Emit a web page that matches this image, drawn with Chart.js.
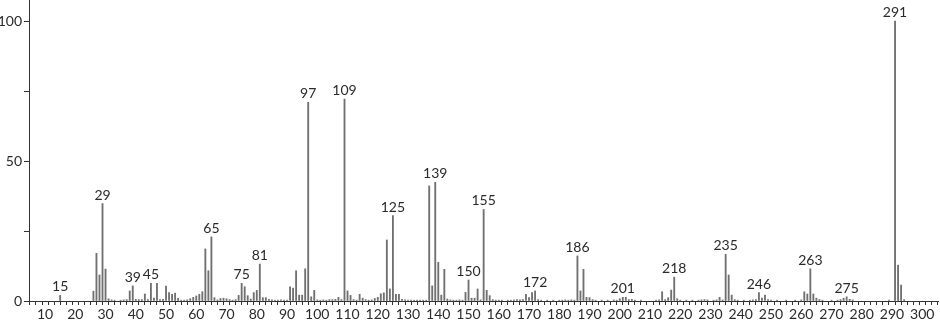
<!DOCTYPE html>
<html>
<head>
<meta charset="utf-8">
<script src="https://cdn.jsdelivr.net/npm/chart.js@4"></script>
<style>
  body { margin: 0; background: #fff; }
  canvas { display: block; }
</style>
</head>
<body>
<canvas id="spectrum" width="940" height="323"></canvas>
<script>
// m/z values and relative intensities
const mz = [15, 26, 27, 28, 29, 30, 31, 32, 33, 35, 36, 37, 38, 39, 40, 41, 42, 43, 44, 45, 46, 47, 48, 49, 50,
  51, 52, 53, 54, 55, 56, 57, 58, 59, 60, 61, 62, 63, 64, 65, 66, 67, 68, 69, 70, 71, 72, 73, 74, 75, 76, 77, 78, 79, 80,
  81, 82, 83, 84, 85, 86, 87, 88, 89, 90, 91, 92, 93, 94, 95, 96, 97, 98, 99, 100, 101, 102, 103, 104, 105, 106, 107, 108,
  109, 110, 111, 112, 113, 114, 115, 116, 117, 118, 119, 120, 121, 122, 123, 124, 125, 126, 127, 128, 129, 130, 131, 132,
  133, 134, 135, 136, 137, 138, 139, 140, 141, 142, 143, 144, 145, 146, 147, 148, 149, 150, 151, 152, 153, 154, 155, 156,
  157, 158, 159, 160, 161, 163, 164, 165, 166, 167, 168, 169, 170, 171, 172, 173, 174, 176, 178, 180, 181, 182, 183, 184,
  185, 186, 187, 188, 189, 190, 191, 192, 194, 196, 198, 199, 200, 201, 202, 203, 204, 205, 207, 212, 213, 214, 215, 216,
  217, 218, 219, 220, 222, 224, 226, 227, 228, 229, 231, 232, 233, 234, 235, 236, 237, 238, 239, 241, 243, 244, 245, 246,
  247, 248, 249, 250, 252, 255, 258, 260, 261, 262, 263, 264, 265, 266, 267, 270, 272, 273, 274, 275, 276, 277, 289, 291,
  292, 293, 294];
const intensity = [2, 3.5, 17, 9.3, 34.8, 11.4, 0.8, 0.4, 0.3, 0.3, 0.4, 0.5, 3.6, 5.4, 0.6, 0.5, 0.5, 2.5, 0.5, 6.3, 1, 6.3, 0.5, 0.6, 5.3,
  3, 2.4, 2.8, 1, 0.3, 0.3, 0.4, 0.8, 1.3, 1.8, 2.4, 3.3, 18.6, 10.8, 22.9, 1.2, 0.4, 0.9, 1, 0.8, 0.5, 0.3, 0.5, 2, 6.3, 5.1, 1.9, 0.7, 3, 3.8,
  13.2, 1.2, 1.2, 0.6, 0.4, 0.3, 0.3, 0.4, 0.3, 0.3, 5.1, 4.6, 10.8, 2.1, 2.1, 11.5, 71, 1.5, 3.8, 0.4, 0.3, 0.4, 0.3, 0.5, 0.5, 0.6, 1.3, 0.5,
  72.1, 3.6, 2, 0.5, 0.3, 2.4, 1, 0.5, 0.3, 0.4, 0.9, 1.3, 2.6, 2.9, 21.8, 4.3, 30.5, 2.4, 2.4, 0.6, 0.4, 0.3, 0.3, 0.3,
  0.3, 0.3, 0.3, 0.3, 41.1, 5.4, 42.4, 13.8, 2.1, 11.3, 0.7, 0.4, 0.3, 0.3, 0.4, 0.3, 3.1, 7.5, 1, 1, 4.3, 0.4, 32.7, 3.8,
  1.9, 0.5, 0.3, 0.3, 0.3, 0.3, 0.3, 0.4, 0.5, 0.4, 0.5, 2.4, 1.2, 3, 3.6, 0.5, 0.3, 0.3, 0.3, 0.3, 0.3, 0.4, 0.3, 0.4,
  0.3, 16.1, 3.6, 11.3, 1.3, 1.2, 0.5, 0.3, 0.3, 0.3, 0.4, 0.3, 0.8, 1.3, 1.3, 0.5, 0.6, 0.3, 0.3, 0.3, 0.4, 3.3, 0.5, 1.2,
  3.9, 8.5, 0.8, 0.3, 0.3, 0.3, 0.3, 0.4, 0.5, 0.4, 0.3, 0.4, 1.3, 0.4, 16.7, 9.3, 2.1, 0.5, 0.3, 0.3, 0.3, 0.4, 0.5, 3,
  1, 2.1, 0.5, 0.3, 0.3, 0.3, 0.3, 0.4, 3.3, 2.5, 11.5, 2.5, 1, 0.5, 0.3, 0.3, 0.3, 0.5, 1, 1.5, 0.6, 0.4, 0.3, 100,
  12.8, 5.7, 0.5];
// peaks that carry a number above them
const labelledPeaks = [15, 29, 39, 45, 65, 75, 81, 97, 109, 125, 139, 150, 155, 172, 186, 201, 218, 235, 246, 263, 275, 291];
const yTickLabels = [0, 50, 100];

const FONT = "Lato, 'DejaVu Sans', sans-serif";

const peakLabels = {
  id: "peakLabels",
  afterDatasetsDraw(chart) {
    const ctx = chart.ctx;
    const meta = chart.getDatasetMeta(0);
    ctx.save();
    ctx.font = "14px " + FONT;
    ctx.fillStyle = "#2a2a2a";
    ctx.textAlign = "center";
    ctx.textBaseline = "alphabetic";
    labelledPeaks.forEach(m => {
      const i = mz.indexOf(m);
      if (i < 0) return;
      const bar = meta.data[i];
      ctx.fillText(String(m), bar.x, bar.y - 4);
    });
    ctx.restore();
  }
};

new Chart(document.getElementById("spectrum"), {
  type: "bar",
  data: {
    datasets: [{
      data: mz.map((m, i) => ({ x: m, y: intensity[i] })),
      backgroundColor: "#707070",
      barThickness: 1.2,
      borderWidth: 0
    }]
  },
  options: {
    responsive: false,
    animation: false,
    devicePixelRatio: 1,
    layout: { padding: { top: 0, right: 2, left: 0, bottom: 0 } },
    plugins: { legend: { display: false }, tooltip: { enabled: false } },
    scales: {
      x: {
        type: "linear",
        min: 4.7,
        max: 305.2,
        offset: false,
        afterFit: s => { s.height = 22; s.paddingLeft = 0; s.paddingRight = 0; },
        border: { color: "#333", width: 1 },
        grid: { drawOnChartArea: false, tickLength: 4, color: "#333" },
        ticks: {
          stepSize: 2,
          includeBounds: false,
          autoSkip: false,
          maxRotation: 0,
          padding: 1,
          color: "#2a2a2a",
          font: { family: FONT, size: 14 },
          callback: v => (v % 10 === 0 ? String(v) : "")
        }
      },
      y: {
        min: 0,
        max: 107.5,
        afterFit: s => { s.width = 29; s.paddingTop = 0; s.paddingBottom = 0; },
        border: { color: "#333", width: 1 },
        grid: { drawOnChartArea: false, tickLength: 5, color: "#333" },
        ticks: {
          stepSize: 25,
          includeBounds: false,
          padding: 2,
          color: "#2a2a2a",
          font: { family: FONT, size: 14 },
          callback: v => (yTickLabels.includes(v) ? String(v) : "")
        }
      }
    }
  },
  plugins: [peakLabels]
});
</script>
</body>
</html>
